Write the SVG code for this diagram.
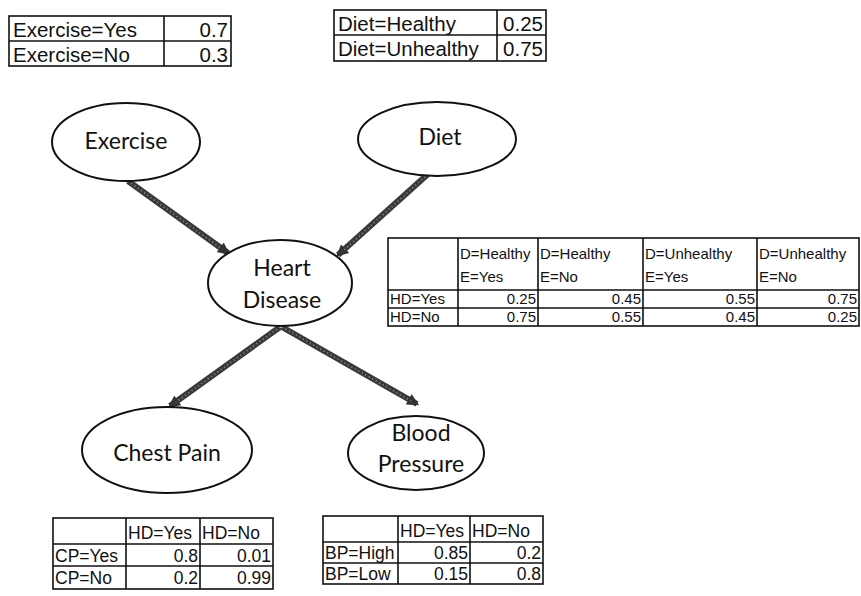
<svg xmlns="http://www.w3.org/2000/svg" width="861" height="596" viewBox="0 0 861 596">
<defs>
<marker id="ah" viewBox="0 0 10 10" refX="8" refY="5" markerUnits="userSpaceOnUse" markerWidth="12" markerHeight="12" orient="auto">
<path d="M0,0 L10,5 L0,10 z" fill="#333"/>
</marker>
</defs>
<style>
.node ellipse{fill:#fff;stroke:#111;stroke-width:2}
.nt{font-family:Lato,"Open Sans",sans-serif;font-size:23px;fill:#111;text-anchor:middle}
.tb{fill:none;stroke:#111;stroke-width:1.6}
.ln{stroke:#111;stroke-width:1.6}
.t20{font-family:"Liberation Sans",Arial,sans-serif;font-size:20.5px;fill:#111}
.t15{font-family:"Liberation Sans",Arial,sans-serif;font-size:15px;fill:#111}
.t17{font-family:"Liberation Sans",Arial,sans-serif;font-size:17.5px;fill:#111}
.r{text-anchor:end}
.edge{stroke:#3a3a3a;stroke-width:6;fill:none;marker-end:url(#ah)}
.tex{stroke:#9a9a9a;stroke-width:1.5;stroke-dasharray:1 3;fill:none}
</style>
<rect width="861" height="596" fill="#fff"/>

<g id="cpt-exercise">
<rect class="tb" x="9" y="16" width="222" height="50"/>
<line class="ln" x1="164" y1="16" x2="164" y2="66"/>
<line class="ln" x1="9" y1="41" x2="231" y2="41"/>
<text class="t20" x="13" y="37">Exercise=Yes</text>
<text class="t20" x="13" y="62">Exercise=No</text>
<text class="t20 r" x="228" y="37">0.7</text>
<text class="t20 r" x="228" y="62">0.3</text>
</g>

<g id="cpt-diet">
<rect class="tb" x="334" y="10" width="212" height="51"/>
<line class="ln" x1="497" y1="10" x2="497" y2="61"/>
<line class="ln" x1="334" y1="35" x2="546" y2="35"/>
<text class="t20" x="338" y="31">Diet=Healthy</text>
<text class="t20" x="338" y="56">Diet=Unhealthy</text>
<text class="t20 r" x="543" y="31">0.25</text>
<text class="t20 r" x="543" y="56">0.75</text>
</g>

<g id="edges">
<line class="edge" x1="128" y1="181" x2="228" y2="253"/>
<line class="edge" x1="428" y1="174" x2="338" y2="255"/>
<line class="edge" x1="280" y1="327" x2="170" y2="406"/>
<line class="edge" x1="282" y1="327" x2="417" y2="404"/>
<line class="tex" x1="128" y1="181" x2="222" y2="249"/>
<line class="tex" x1="428" y1="174" x2="344" y2="250"/>
<line class="tex" x1="280" y1="327" x2="176" y2="402"/>
<line class="tex" x1="282" y1="327" x2="411" y2="401"/>
</g>

<g id="exercise" class="node">
<ellipse cx="126" cy="142" rx="74" ry="39"/>
<text class="nt" x="126" y="149">Exercise</text>
</g>

<g id="diet" class="node">
<ellipse cx="437" cy="139" rx="79" ry="37"/>
<text class="nt" x="440" y="145">Diet</text>
</g>

<g id="heart-disease" class="node">
<ellipse cx="280" cy="283" rx="72" ry="43"/>
<text class="nt" x="282" y="276">Heart</text>
<text class="nt" x="282" y="308">Disease</text>
</g>

<g id="chest-pain" class="node">
<ellipse cx="167" cy="450" rx="85" ry="43"/>
<text class="nt" x="167" y="461">Chest Pain</text>
</g>

<g id="blood-pressure" class="node">
<ellipse cx="416" cy="453" rx="68" ry="37"/>
<text class="nt" x="421" y="441">Blood</text>
<text class="nt" x="421" y="472">Pressure</text>
</g>

<g id="cpt-heart-disease">
<rect class="tb" x="388" y="238" width="471" height="88"/>
<line class="ln" x1="388" y1="290" x2="859" y2="290"/>
<line class="ln" x1="388" y1="308" x2="859" y2="308"/>
<line class="ln" x1="458" y1="238" x2="458" y2="326"/>
<line class="ln" x1="538" y1="238" x2="538" y2="326"/>
<line class="ln" x1="643" y1="238" x2="643" y2="326"/>
<line class="ln" x1="757" y1="238" x2="757" y2="326"/>
<text class="t15" x="460" y="259">D=Healthy</text>
<text class="t15" x="460" y="282">E=Yes</text>
<text class="t15" x="540" y="259">D=Healthy</text>
<text class="t15" x="540" y="282">E=No</text>
<text class="t15" x="645" y="259">D=Unhealthy</text>
<text class="t15" x="645" y="282">E=Yes</text>
<text class="t15" x="759" y="259">D=Unhealthy</text>
<text class="t15" x="759" y="282">E=No</text>
<text class="t15" x="390" y="304">HD=Yes</text>
<text class="t15" x="390" y="322">HD=No</text>
<text class="t15 r" x="536" y="304">0.25</text>
<text class="t15 r" x="641" y="304">0.45</text>
<text class="t15 r" x="755" y="304">0.55</text>
<text class="t15 r" x="857" y="304">0.75</text>
<text class="t15 r" x="536" y="322">0.75</text>
<text class="t15 r" x="641" y="322">0.55</text>
<text class="t15 r" x="755" y="322">0.45</text>
<text class="t15 r" x="857" y="322">0.25</text>
</g>

<g id="cpt-chest-pain">
<rect class="tb" x="53" y="518" width="220" height="71"/>
<line class="ln" x1="53" y1="544" x2="273" y2="544"/>
<line class="ln" x1="53" y1="566" x2="273" y2="566"/>
<line class="ln" x1="126" y1="518" x2="126" y2="589"/>
<line class="ln" x1="200" y1="518" x2="200" y2="589"/>
<text class="t17" x="128" y="539">HD=Yes</text>
<text class="t17" x="202" y="539">HD=No</text>
<text class="t17" x="55" y="562">CP=Yes</text>
<text class="t17" x="55" y="584">CP=No</text>
<text class="t17 r" x="198" y="562">0.8</text>
<text class="t17 r" x="271" y="562">0.01</text>
<text class="t17 r" x="198" y="584">0.2</text>
<text class="t17 r" x="271" y="584">0.99</text>
</g>

<g id="cpt-blood-pressure">
<rect class="tb" x="323" y="516" width="220" height="68"/>
<line class="ln" x1="323" y1="542" x2="543" y2="542"/>
<line class="ln" x1="323" y1="563" x2="543" y2="563"/>
<line class="ln" x1="398" y1="516" x2="398" y2="584"/>
<line class="ln" x1="470" y1="516" x2="470" y2="584"/>
<text class="t17" x="400" y="537">HD=Yes</text>
<text class="t17" x="472" y="537">HD=No</text>
<text class="t17" x="325" y="559">BP=High</text>
<text class="t17" x="325" y="580">BP=Low</text>
<text class="t17 r" x="468" y="559">0.85</text>
<text class="t17 r" x="541" y="559">0.2</text>
<text class="t17 r" x="468" y="580">0.15</text>
<text class="t17 r" x="541" y="580">0.8</text>
</g>
</svg>
